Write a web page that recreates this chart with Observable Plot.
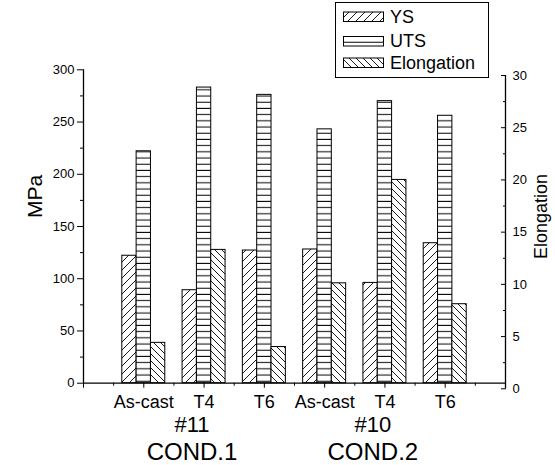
<!DOCTYPE html>
<html><head><meta charset="utf-8">
<script src="https://cdn.jsdelivr.net/npm/d3@7"></script>
<script src="https://cdn.jsdelivr.net/npm/@observablehq/plot@0.6"></script>
<style>
body{margin:0;background:#fff;}
#wrap{position:relative;width:555px;height:465px;font-family:"Liberation Sans",Arial,sans-serif;}
#legend{position:absolute;left:335px;top:2px;}
</style></head><body>
<svg width="0" height="0" style="position:absolute">
<defs>
<pattern id="pYS" patternUnits="userSpaceOnUse" width="8" height="8">
<rect width="8" height="8" fill="#fff"/>
<path d="M-2,2 L2,-2 M0,8 L8,0 M6,10 L10,6" stroke="#000" stroke-width="0.9"/>
</pattern>
<pattern id="pUTS" patternUnits="userSpaceOnUse" width="6" height="6.2">
<rect width="6" height="6.2" fill="#fff"/>
<path d="M0,3 H6" stroke="#000" stroke-width="1"/>
</pattern>
<pattern id="pEL" patternUnits="userSpaceOnUse" width="7" height="7">
<rect width="7" height="7" fill="#fff"/>
<path d="M-2,5 L2,9 M0,0 L7,7 M5,-2 L9,2" stroke="#000" stroke-width="0.9"/>
</pattern>
</defs></svg>
<div id="wrap"><div id="chart"></div><div id="legend"></div></div>
<script>
// ---- data ----
const categories = ["As-cast", "T4", "T6", "As-cast", "T4", "T6"];
const groupNames = ["#11", "#10"];
const groupConds = ["COND.1", "COND.2"];
const seriesNames = ["YS", "UTS", "Elongation"];
const ysValues = [122, 89, 127, 128, 96, 134];
const utsValues = [222, 283, 276, 243, 270, 256];
const elongValues = [4.4, 13.3, 4.0, 10.1, 20.0, 8.1];
const leftTicks = [0, 50, 100, 150, 200, 250, 300];
const rightTicks = [0, 5, 10, 15, 20, 25, 30];

// ---- layout ----
const W = 555, H = 465;
const mL = 83, mR = 50, mT = 69.3, mB = 82.3;
const xDomain = [0, categories.length + 1];
const yDomain = [0, 300];
const rDomain = [0, 30];
// left axis pixel mapping and right (offset) axis pixel mapping
const yLeftPx = d3.scaleLinear(yDomain, [H - mB, mT]);
const yRightPx = d3.scaleLinear(rDomain, [388.3, 75]);
const toMPa = e => yLeftPx.invert(yRightPx(e));
const fromMPa = v => yRightPx.invert(yLeftPx(v));

const bw = 0.2377; // bar width in x units
const rows = categories.map((c, i) => ({i, pos: i + 1, c, ys: ysValues[i], uts: utsValues[i], el: elongValues[i]}));
const patterns = {YS: "url(#pYS)", UTS: "url(#pUTS)", Elongation: "url(#pEL)"};

const font = "'Liberation Sans', Arial, sans-serif";
const minorLeft = d3.range(25, 300, 50);
const minorRight = d3.range(2.5, 30, 5);
const majorX = d3.range(xDomain[0], xDomain[1] + 1);
const minorX = d3.range(0.5, xDomain[1], 1);
const groupCenters = groupNames.map((g, k) => 3 * k + 2);

const chart = Plot.plot({
  width: W, height: H,
  marginLeft: mL, marginRight: mR, marginTop: mT, marginBottom: mB,
  x: {domain: xDomain},
  y: {domain: yDomain},
  style: {fontFamily: font, fontSize: "13px", color: "#000", background: "transparent", overflow: "visible"},
  marks: [
    Plot.rect(rows, {x1: d => d.pos - 1.5 * bw, x2: d => d.pos - 0.5 * bw, y1: 0, y2: "ys", fill: patterns.YS, stroke: "#000", strokeWidth: 1}),
    Plot.rect(rows, {x1: d => d.pos - 0.5 * bw, x2: d => d.pos + 0.5 * bw, y1: 0, y2: "uts", fill: patterns.UTS, stroke: "#000", strokeWidth: 1}),
    Plot.rect(rows, {x1: d => d.pos + 0.5 * bw, x2: d => d.pos + 1.5 * bw, y1: 0, y2: d => toMPa(d.el), fill: patterns.Elongation, stroke: "#000", strokeWidth: 1}),
    // axis lines
    Plot.ruleX([xDomain[0]], {y1: yDomain[0], y2: yDomain[1], stroke: "#000", strokeWidth: 1.3}),
    Plot.ruleX([xDomain[1]], {y1: toMPa(rDomain[0]), y2: toMPa(rDomain[1]), stroke: "#000", strokeWidth: 1.3}),
    Plot.ruleY([yDomain[0]], {x1: xDomain[0], x2: xDomain[1], stroke: "#000", strokeWidth: 1.3}),
    // left axis
    Plot.axisY({ticks: leftTicks, tickSize: 6, tickPadding: 3, label: null, fontSize: 13}),
    Plot.axisY({ticks: minorLeft, tickSize: 3, fill: "none", label: null}),
    // right axis (elongation)
    Plot.axisY({anchor: "right", ticks: rightTicks.map(toMPa), tickFormat: v => String(Math.round(fromMPa(v))), tickSize: -5, tickPadding: 12, label: null, fontSize: 13}),
    Plot.axisY({anchor: "right", ticks: minorRight.map(toMPa), tickSize: -3, fill: "none", label: null}),
    // x axis
    Plot.axisX({ticks: majorX, tickSize: 5, tickPadding: 7, tickFormat: d => categories[d - 1] ?? "", label: null, fontSize: 18}),
    Plot.axisX({ticks: minorX, tickSize: 3, fill: "none", label: null}),
    // group labels
    Plot.text(groupNames, {x: (d, k) => groupCenters[k] - 0.2, frameAnchor: "bottom", dy: 42, fontSize: 22, lineAnchor: "middle"}),
    Plot.text(groupConds, {x: (d, k) => groupCenters[k] - 0.2, frameAnchor: "bottom", dy: 69.5, fontSize: 24, lineAnchor: "middle"}),
    // axis titles
    Plot.text(["MPa"], {frameAnchor: "left", textAnchor: "middle", dx: -48, dy: -30, rotate: -90, fontSize: 21}),
    Plot.text(["Elongation"], {frameAnchor: "right", textAnchor: "middle", dx: 36, dy: -10, rotate: -90, fontSize: 18})
  ]
});
document.getElementById("chart").appendChild(chart);

// legend
const lg = d3.select("#legend").append("svg").attr("width", 155).attr("height", 78)
  .style("font-family", font);
lg.append("rect").attr("x", 0.5).attr("y", 0.5).attr("width", 153).attr("height", 75)
  .attr("fill", "#fff").attr("stroke", "#000").attr("stroke-width", 1);
const rowY = [14.5, 39, 60.5];
seriesNames.forEach((s, k) => {
  lg.append("rect").attr("x", 8.5).attr("y", rowY[k] - 4.5).attr("width", 40).attr("height", 9.5)
    .attr("fill", patterns[s]).attr("stroke", "#000").attr("stroke-width", 1);
  lg.append("text").attr("x", 55).attr("y", rowY[k]).attr("dy", "0.36em")
    .attr("font-size", 18).attr("fill", "#000").text(s);
});
</script>
</body></html>
